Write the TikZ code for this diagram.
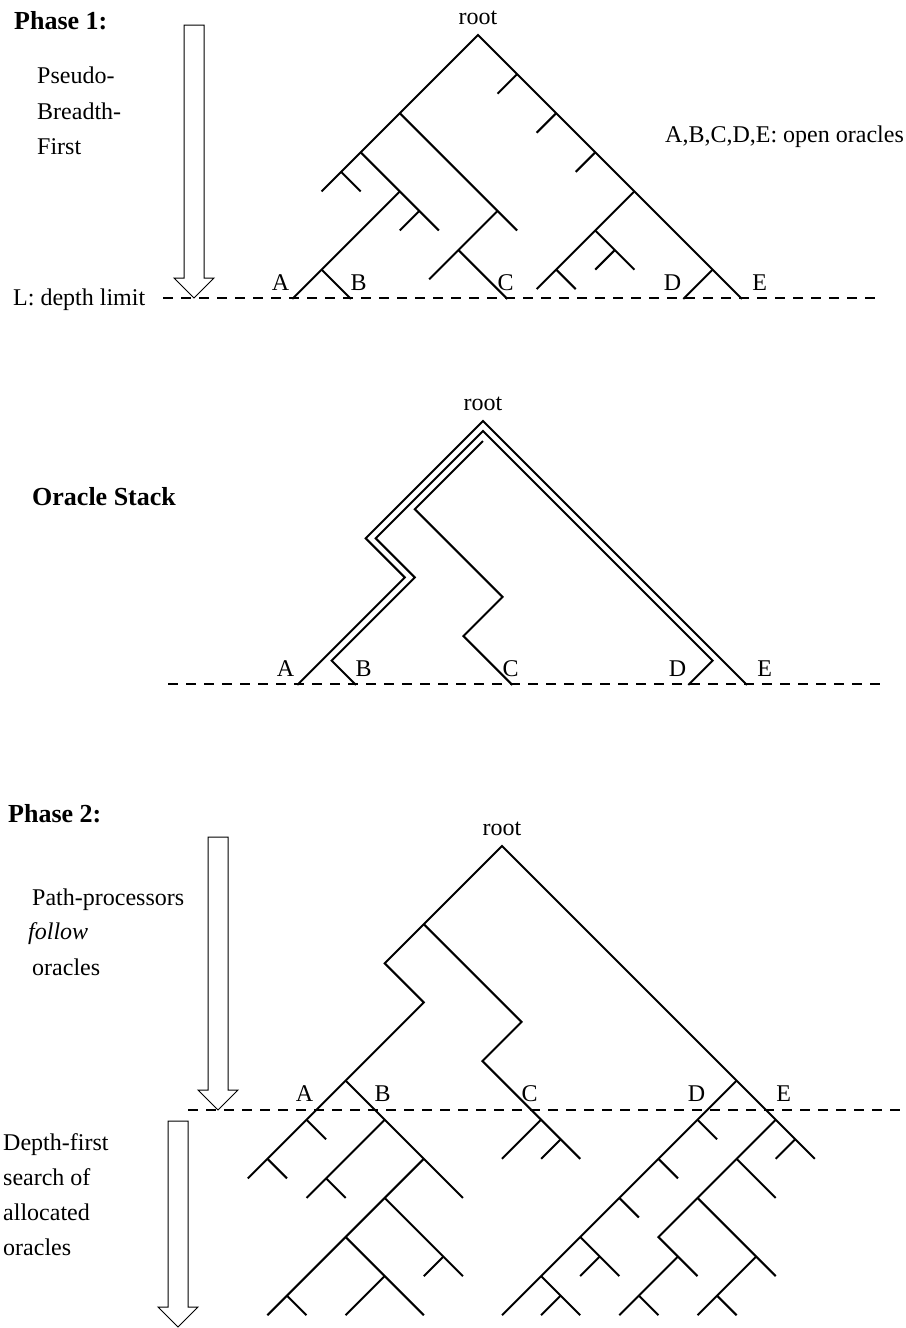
\documentclass[tikz,border=0pt]{standalone}
\usepackage{fontspec}
\setmainfont{Liberation Serif}
\usetikzlibrary{calc}
\newcommand\abcde[2]{%
  \node[lbl] (A#2) at ($(#1)+(-197.5,255)$) {A};
  \node[lbl] (B#2) at ($(#1)+(-119.5,255)$) {B};
  \node[lbl] (C#2) at ($(#1)+(27.5,255)$) {C};
  \node[lbl] (D#2) at ($(#1)+(194.5,255)$) {D};
  \node[lbl] (E#2) at ($(#1)+(281.7,255)$) {E};
  \node[lbl] (R#2) at ($(#1)+(0,-11)$) {root};
}
\begin{document}
\begin{tikzpicture}[x=1pt,y=-1pt,
  tree/.style={line width=2pt, line cap=butt, line join=miter},
  limit/.style={dash pattern=on 10pt off 8pt, line width=1.2pt},
  blockarrow/.style={draw, line width=1pt, line join=miter},
  lbl/.style={anchor=base, inner sep=0pt, font=\fontsize{24}{28}\selectfont},
  txt/.style={anchor=base west, inner sep=0pt, font=\fontsize{24}{28}\selectfont},
  head/.style={anchor=base west, inner sep=0pt, font=\fontsize{26}{30}\selectfont\bfseries},
]
\useasboundingbox (0,0) rectangle (905,1328);

% ---------- Phase 1 ----------
\coordinate (r1) at (478,35);
\draw[limit] (163,298) coordinate (l1a) -- (880,298) coordinate (l1b);
\draw[blockarrow] (184,25) -- (204,25) -- (204,278) -- (214,278) -- (194,298) -- (174,278) -- (184,278) -- cycle;
\begin{scope}[shift={(r1)}, x=19.55pt, y=-19.55pt]
  \draw[tree] (-8,8) -- (-7,7) -- (-6,6) -- (-4,4) -- (0,0) -- (13.5,13.5);
  \draw[tree] (-7,7) -- (-6,8);
  \draw[tree] (-6,6) -- (-2,10);
  \draw[tree] (-3,9) -- (-4,10);
  \draw[tree] (-4,8) -- (-9.5,13.5);
  \draw[tree] (-8,12) -- (-6.5,13.5);
  \draw[tree] (-4,4) -- (2,10);
  \draw[tree] (1,9) -- (-2.5,12.5);
  \draw[tree] (-1,11) -- (1.5,13.5);
  \draw[tree] (2,2) -- (1,3);
  \draw[tree] (4,4) -- (3,5);
  \draw[tree] (6,6) -- (5,7);
  \draw[tree] (8,8) -- (3,13);
  \draw[tree] (6,10) -- (8,12);
  \draw[tree] (7,11) -- (6,12);
  \draw[tree] (4,12) -- (5,13);
  \draw[tree] (12,12) -- (10.5,13.5);
\end{scope}
\abcde{r1}{1}
\node[head] (ph1) at (14,29.5) {Phase 1:};
\node[txt] (p1a) at (37,83.5) {Pseudo-};
\node[txt] (p1b) at (37,119) {Breadth-};
\node[txt] (p1c) at (37,154.5) {First};
\node[txt] (lim) at (13,305) {L: depth limit};
\node[txt] (open) at (665,142) {A,B,C,D,E: open oracles};

% ---------- Oracle stack ----------
\coordinate (r2) at (483,421);
\draw[limit] (168,684) coordinate (l2a) -- (885,684) coordinate (l2b);
\def\h{0.256}
\begin{scope}[shift={(r2)}, x=19.55pt, y=-19.55pt]
  \draw[tree] (-9.5,13.5) -- (-4,8) -- (-6,6) -- (0,0) -- (13.5,13.5);
  \draw[tree] (-6.5,13.5) -- (-8+\h,12+\h) -- (-4+2*\h,8) -- (-6+2*\h,6) -- (0,2*\h) -- (12-\h,12+\h) -- (10.5,13.5);
  \draw[tree] (1.5,13.5) -- (-1,11) -- (1,9) -- (-4+2*\h,4+2*\h) -- (0,4*\h);
\end{scope}
\abcde{r2}{2}
\node[head] (os) at (32,505) {Oracle Stack};

% ---------- Phase 2 ----------
\coordinate (r3) at (502,846);
\draw[limit] (188,1110) coordinate (l3a) -- (905,1110) coordinate (l3b);
\draw[blockarrow] (208,837) -- (228,837) -- (228,1090) -- (238,1090) -- (218,1110) -- (198,1090) -- (208,1090) -- cycle;
\draw[blockarrow] (168,1121) -- (188,1121) -- (188,1307) -- (198,1307) -- (178,1327) -- (158,1307) -- (168,1307) -- cycle;
\begin{scope}[shift={(r3)}, x=19.55pt, y=-19.55pt]
  \draw[tree] (-13,17) -- (-8,12) -- (-4,8) -- (-6,6) -- (-4,4) -- (0,0) -- (16,16);
  \draw[tree] (-4,4) -- (1,9) -- (-1,11) -- (4,16);
  \draw[tree] (2,14) -- (0,16);
  \draw[tree] (3,15) -- (2,16);
  \draw[tree] (15,15) -- (14,16);
  \draw[tree] (14,14) -- (8,20) -- (10,22);
  \draw[tree] (12,16) -- (14,18);
  \draw[tree] (10,18) -- (14,22);
  \draw[tree] (13,21) -- (10,24);
  \draw[tree] (11,23) -- (12,24);
  \draw[tree] (9,21) -- (6,24);
  \draw[tree] (7,23) -- (8,24);
  \draw[tree] (12,12) -- (0,24);
  \draw[tree] (10,14) -- (11,15);
  \draw[tree] (8,16) -- (9,17);
  \draw[tree] (6,18) -- (7,19);
  \draw[tree] (4,20) -- (6,22);
  \draw[tree] (5,21) -- (4,22);
  \draw[tree] (2,22) -- (4,24);
  \draw[tree] (3,23) -- (2,24);
  % left part
  \draw[tree] (-10,14) -- (-9,15);
  \draw[tree] (-12,16) -- (-11,17);
  \draw[tree] (-8,12) -- (-2,18);
  \draw[tree] (-6,14) -- (-10,18);
  \draw[tree] (-9,17) -- (-8,18);
  \draw[tree] (-4,16) -- (-12,24);
  \draw[tree] (-6,18) -- (-2,22);
  \draw[tree] (-3,21) -- (-4,22);
  \draw[tree] (-8,20) -- (-4,24);
  \draw[tree] (-6,22) -- (-8,24);
  \draw[tree] (-11,23) -- (-10,24);
\end{scope}
\abcde{r3}{3}
\node[head] (ph2) at (8,822.5) {Phase 2:};
\node[txt] (p2a) at (32,905) {Path-processors};
\node[txt] (p2b) at (28,939.5) {\itshape follow};
\node[txt] (p2c) at (32,975) {oracles};
\node[txt] (d1) at (3,1150) {Depth-first};
\node[txt] (d2) at (3,1185) {search of};
\node[txt] (d3) at (3,1220) {allocated};
\node[txt] (d4) at (3,1255) {oracles};
\end{tikzpicture}
\end{document}
